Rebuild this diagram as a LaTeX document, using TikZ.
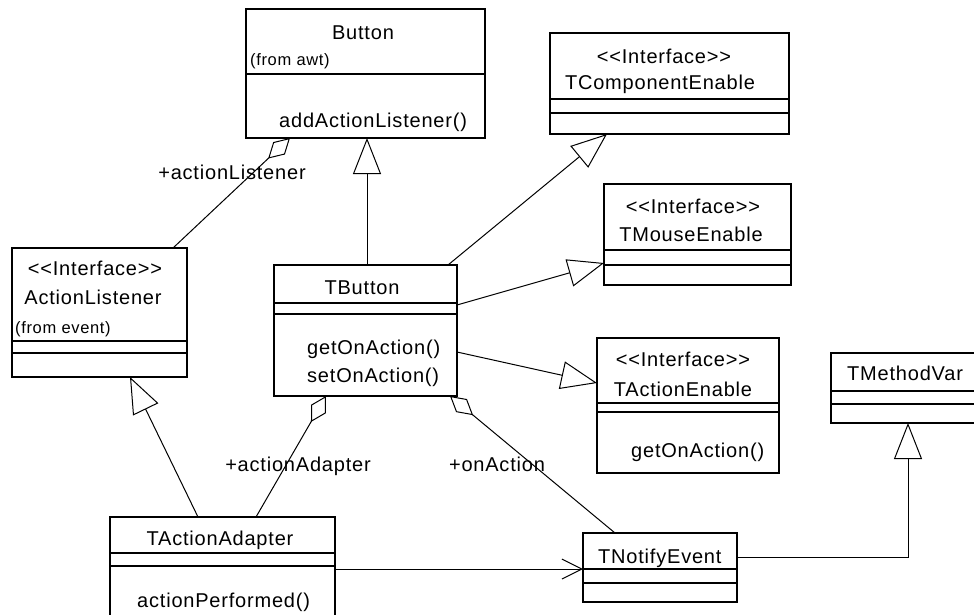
\documentclass[tikz,border=0pt]{standalone}
\usepackage{fontspec}
\newfontfamily\umlfont{Liberation Sans}[LetterSpace=4]
\usetikzlibrary{arrows.meta}
\begin{document}
\begin{tikzpicture}[x=1pt,y=-1pt,
  box/.style={draw, line width=1.3pt, inner sep=0pt, outer sep=0pt, anchor=north west},
  sep/.style={line width=1.3pt},
  txt/.style={inner sep=0pt, anchor=base, font=\umlfont\fontsize{20}{24}\selectfont},
  ltxt/.style={txt, anchor=base west},
  small/.style={inner sep=0pt, anchor=base west, font=\umlfont\fontsize{16.5}{20}\selectfont},
  link/.style={line width=1pt},
  gen/.style={link, -{Triangle[open, length=36pt, width=28pt]}},
  agg/.style={link, {Diamond[open, length=30pt, width=17pt]}-},
  assoc/.style={link, -{Straight Barb[length=20pt, width=20pt]}},
]
\path[use as bounding box] (0,0) rectangle (974,614);
\clip (0,0) rectangle (974,614);

% ---- classes ----
\node[box, minimum width=239pt, minimum height=129pt] (button) at (246,9) {};
\draw[sep] (button.west |- 0,74) -- (button.east |- 0,74);
\node[txt] (buttonname) at (363,39) {Button};
\node[small] (buttonpkg) at (250,65) {(from awt)};
\node[ltxt] (buttonop) at (279,127) {addActionListener()};

\node[box, minimum width=239pt, minimum height=101pt] (tcomp) at (550,33) {};
\draw[sep] (tcomp.west |- 0,99) -- (tcomp.east |- 0,99);
\draw[sep] (tcomp.west |- 0,113) -- (tcomp.east |- 0,113);
\node[txt] (tcompst) at (664,63) {<<Interface>>};
\node[txt] (tcompname) at (660,89) {TComponentEnable};

\node[box, minimum width=187pt, minimum height=101pt] (tmouse) at (604,184) {};
\draw[sep] (tmouse.west |- 0,250) -- (tmouse.east |- 0,250);
\draw[sep] (tmouse.west |- 0,265) -- (tmouse.east |- 0,265);
\node[txt] (tmousest) at (693,213) {<<Interface>>};
\node[txt] (tmousename) at (691,241) {TMouseEnable};

\node[box, minimum width=175pt, minimum height=129pt] (alist) at (12,248) {};
\draw[sep] (alist.west |- 0,341) -- (alist.east |- 0,341);
\draw[sep] (alist.west |- 0,353) -- (alist.east |- 0,353);
\node[txt] (alistst) at (95,275) {<<Interface>>};
\node[txt] (alistname) at (93,304) {ActionListener};
\node[small] (alistpkg) at (15,333) {(from event)};

\node[box, minimum width=183pt, minimum height=131pt] (tbutton) at (274,265) {};
\draw[sep] (tbutton.west |- 0,303) -- (tbutton.east |- 0,303);
\draw[sep] (tbutton.west |- 0,314) -- (tbutton.east |- 0,314);
\node[txt] (tbuttonname) at (362,294) {TButton};
\node[ltxt] (tbuttonget) at (307,354) {getOnAction()};
\node[ltxt] (tbuttonset) at (307,382) {setOnAction()};

\node[box, minimum width=182pt, minimum height=135pt] (tact) at (597,338) {};
\draw[sep] (tact.west |- 0,403) -- (tact.east |- 0,403);
\draw[sep] (tact.west |- 0,412) -- (tact.east |- 0,412);
\node[txt] (tactst) at (683,366) {<<Interface>>};
\node[txt] (tactname) at (683,396) {TActionEnable};
\node[ltxt] (tactop) at (631,457) {getOnAction()};

\node[box, minimum width=170pt, minimum height=70pt] (tmethod) at (831,353) {};
\draw[sep] (tmethod.west |- 0,391) -- (tmethod.east |- 0,391);
\draw[sep] (tmethod.west |- 0,404) -- (tmethod.east |- 0,404);
\node[ltxt] (tmethodname) at (847,380) {TMethodVar};

\node[box, minimum width=154pt, minimum height=69pt] (tnotify) at (583,533) {};
\draw[sep] (tnotify.west |- 0,569) -- (tnotify.east |- 0,569);
\draw[sep] (tnotify.west |- 0,583) -- (tnotify.east |- 0,583);
\node[ltxt] (tnotifyname) at (598,563) {TNotifyEvent};

\node[box, minimum width=225pt, minimum height=110pt] (tadapter) at (110,517) {};
\draw[sep] (tadapter.west |- 0,553) -- (tadapter.east |- 0,553);
\draw[sep] (tadapter.west |- 0,566) -- (tadapter.east |- 0,566);
\node[txt] (tadaptername) at (220,545) {TActionAdapter};
\node[ltxt] (tadapterop) at (137,607) {actionPerformed()};

% ---- relations ----
\draw[agg] (button.south -| 290,0) -- (alist.north -| 173,0);
\node[txt] (lbllistener) at (232,179) {+actionListener};

\draw[gen] (tbutton.north -| 367,0) -- (button.south -| 367,0);
\draw[gen] (tbutton.north -| 448,0) -- (tcomp.south -| 607,0);
\draw[gen] (tbutton.east |- 0,305) -- (tmouse.west |- 0,263);
\draw[gen] (tbutton.east |- 0,352) -- (tact.west |- 0,383);
\draw[gen] (tadapter.north -| 198,0) -- (alist.south -| 130,0);

\draw[agg] (tbutton.south -| 326,0) -- (tadapter.north -| 256,0);
\node[txt] (lbladapter) at (298,471) {+actionAdapter};
\draw[agg] (tbutton.south -| 450,0) -- (tnotify.north -| 615,0);
\node[txt] (lblonaction) at (497,471) {+onAction};

\draw[assoc] (tadapter.east |- 0,569) -- (tnotify.west |- 0,569);
\draw[gen] (tnotify.east |- 0,557) -| (tmethod.south -| 908,0);
\end{tikzpicture}
\end{document}
